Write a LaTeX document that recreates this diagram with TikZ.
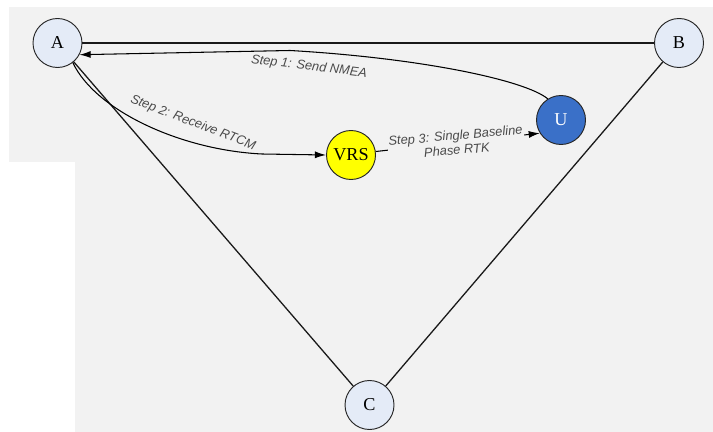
\documentclass[tikz,border=0pt]{standalone}
\usepackage{fontspec}
\setmainfont{Liberation Serif}
\newfontfamily\labelfont{Liberation Sans}
\usetikzlibrary{arrows.meta}
\definecolor{bggray}{HTML}{F2F2F2}
\definecolor{nodefill}{HTML}{E4EBF7}
\definecolor{vrsyellow}{HTML}{FFFF00}
\definecolor{roverblue}{HTML}{3A70C8}
\definecolor{steptext}{HTML}{4A4A4A}
\tikzset{
  station/.style={circle, draw=black!85, line width=0.8pt, fill=nodefill,
    minimum size=1.47cm, inner sep=0pt, font=\fontsize{15.5}{15.5}\selectfont},
  vrsnode/.style={station, fill=vrsyellow},
  rovernode/.style={station, fill=roverblue, text=white},
  baseline/.style={line width=1.1pt, draw=black!90},
  flow/.style={line width=0.9pt, draw=black, -{Latex[length=9.5pt,width=6pt]}},
  steplabel/.style={font=\labelfont\itshape\fontsize{11}{12.5}\selectfont,
    text=steptext, inner sep=1pt, align=center}
}
\begin{document}
\begin{tikzpicture}[x=0.03cm, y=-0.03cm]
  % canvas and backdrop
  \useasboundingbox (0,0) rectangle (713,432);
  \fill[white] (0,0) rectangle (713,432);
  \fill[bggray] (9,7) rectangle (713,162);
  \fill[bggray] (75,162) rectangle (713,432);

  % reference stations, virtual station and rover
  \node[station] (A) at (57.5,43) {A};
  \node[station] (B) at (679,43) {B};
  \node[station] (C) at (369.5,405) {C};
  \node[vrsnode] (VRS) at (351,155) {VRS};
  \node[rovernode] (U) at (561,120) {U};

  % network triangle
  \draw[baseline] (A) -- (B);
  \draw[baseline] (A) -- (C);
  \draw[baseline] (B) -- (C);

  % step 1: rover sends NMEA position to the server
  \coordinate (s1) at (290,50.5);
  \draw[flow] (U.122) .. controls (525,80) and (420,58) .. (s1) -- (A.-28);
  \node[steplabel, rotate=-7] (l1) at (309,67) {Step 1: Send NMEA};

  % step 2: corrections generated for the virtual station
  \coordinate (s2) at (262,154);
  \draw[flow] (A.-52) .. controls (95,110) and (180,150) .. (s2) -- (VRS.west);
  \node[steplabel, rotate=-21] (l2) at (193,123) {Step 2: Receive RTCM};

  % step 3: single-baseline RTK between VRS and rover
  \draw[flow] (VRS.8) -- node[steplabel, rotate=5, fill=bggray, pos=0.49]
    (l3) {Step 3: Single Baseline\\Phase RTK} (U.212);
\end{tikzpicture}
\end{document}
